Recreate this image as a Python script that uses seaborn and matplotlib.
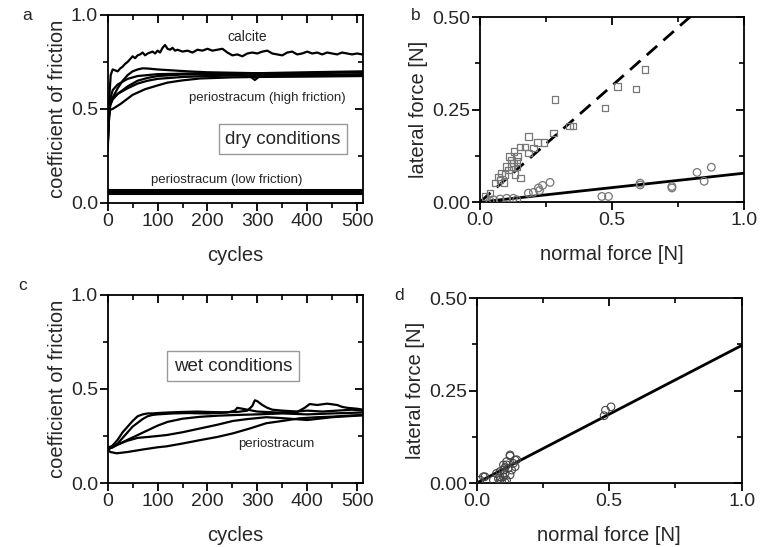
import seaborn as sns
import matplotlib
matplotlib.use('Agg')
from matplotlib import pyplot as plt
from matplotlib import lines as mlines
from matplotlib.ticker import MultipleLocator

# ---- panel a: dry conditions, coefficient of friction vs cycles ----
calcite_cyc = [0, 3, 6, 10, 15, 20, 25, 30, 35, 40, 45, 50, 55, 60, 65, 70, 75, 80, 85, 90,
               95, 100, 105, 110, 115, 120, 125, 130, 135, 140, 150, 160, 170, 180, 190, 200,
               210, 220, 230, 240, 250, 260, 270, 280, 290, 300, 310, 320, 330, 340, 350, 360,
               370, 380, 390, 400, 410, 420, 430, 440, 450, 460, 470, 480, 490, 500, 510]
calcite_cof = [0.30, 0.55, 0.68, 0.71, 0.705, 0.70, 0.715, 0.725, 0.74, 0.75, 0.765, 0.78, 0.77,
               0.785, 0.79, 0.80, 0.785, 0.795, 0.80, 0.805, 0.795, 0.81, 0.80, 0.825, 0.84, 0.82,
               0.815, 0.825, 0.81, 0.815, 0.805, 0.81, 0.80, 0.815, 0.81, 0.82, 0.81, 0.815, 0.82,
               0.80, 0.785, 0.79, 0.78, 0.795, 0.80, 0.795, 0.805, 0.81, 0.795, 0.79, 0.785, 0.80,
               0.805, 0.79, 0.795, 0.805, 0.795, 0.80, 0.79, 0.80, 0.795, 0.79, 0.80, 0.795, 0.79,
               0.795, 0.79]

high_cyc = [
    [0, 2, 5, 10, 20, 30, 40, 50, 60, 70, 80, 100, 130, 160, 200, 300, 400, 512],
    [0, 3, 5, 10, 20, 40, 60, 100, 200, 300, 400, 512],
    [0, 5, 10, 20, 40, 60, 80, 100, 150, 250, 285, 295, 305, 400, 512],
    [0, 5, 10, 20, 40, 60, 80, 100, 150, 200, 300, 400, 512],
    [0, 3, 5, 10, 25, 50, 75, 100, 120, 150, 185, 250, 300, 400, 512],
]
high_cof = [
    [0.30, 0.45, 0.52, 0.56, 0.61, 0.65, 0.68, 0.70, 0.71, 0.716, 0.715, 0.71, 0.705, 0.70, 0.695, 0.69, 0.69, 0.695],
    [0.30, 0.50, 0.55, 0.60, 0.63, 0.66, 0.675, 0.685, 0.69, 0.69, 0.695, 0.70],
    [0.35, 0.53, 0.555, 0.58, 0.62, 0.65, 0.665, 0.675, 0.683, 0.685, 0.675, 0.654, 0.675, 0.68, 0.685],
    [0.40, 0.52, 0.55, 0.58, 0.61, 0.635, 0.65, 0.66, 0.67, 0.675, 0.68, 0.68, 0.68],
    [0.28, 0.47, 0.495, 0.50, 0.525, 0.575, 0.605, 0.625, 0.64, 0.652, 0.662, 0.668, 0.67, 0.672, 0.675],
]

low_cyc = [0, 512]
low_cof = [[0.055, 0.055], [0.06, 0.06], [0.065, 0.065], [0.07, 0.07]]

# ---- panel b: dry, lateral vs normal force ----
sq_normal = [0.284, 0.278, 0.183, 0.217, 0.242, 0.183, 0.152, 0.170, 0.141, 0.126, 0.120, 0.139,
             0.107, 0.133, 0.154, 0.095, 0.076, 0.057, 0.091, 0.069, 0.038, 0.019, 0.120, 0.139,
             0.129, 0.338, 0.351, 0.473, 0.520, 0.591, 0.625, 0.202, 0.111, 0.101, 0.082]
sq_lateral = [0.277, 0.186, 0.177, 0.161, 0.161, 0.132, 0.149, 0.149, 0.123, 0.105, 0.096, 0.096,
              0.087, 0.074, 0.065, 0.074, 0.060, 0.051, 0.053, 0.067, 0.024, 0.015, 0.114, 0.110,
              0.137, 0.205, 0.206, 0.254, 0.313, 0.305, 0.359, 0.146, 0.123, 0.096, 0.078]
ci_normal = [0.461, 0.486, 0.606, 0.606, 0.726, 0.726, 0.821, 0.848, 0.875, 0.183, 0.202, 0.221,
             0.237, 0.265, 0.225, 0.051, 0.076, 0.101, 0.126, 0.139, 0.038]
ci_lateral = [0.015, 0.015, 0.051, 0.046, 0.042, 0.038, 0.080, 0.056, 0.094, 0.024, 0.026, 0.038,
              0.045, 0.053, 0.031, 0.006, 0.008, 0.010, 0.010, 0.006, 0.003]
fit_x = [0.0, 1.0]
fit_high = [0.0, 0.63]
fit_low = [0.0, 0.078]

# ---- panel c: wet conditions ----
wet_cyc = [
    [0, 10, 20, 30, 40, 50, 60, 70, 80, 90, 100, 120, 150, 180, 200, 230, 260, 280, 290, 295,
     300, 310, 320, 330, 350, 380, 400, 430, 460, 490, 512],
    [0, 10, 20, 30, 40, 50, 60, 70, 80, 90, 100, 130, 160, 200, 240, 255, 260, 270, 300, 340,
     380, 395, 405, 420, 440, 460, 470, 480, 500, 512],
    [0, 10, 25, 40, 60, 80, 100, 120, 150, 185, 220, 260, 300, 350, 400, 450, 512],
    [0, 10, 25, 40, 60, 85, 100, 118, 150, 185, 220, 251, 280, 318, 350, 400, 450, 512],
    [0, 5, 18, 40, 70, 100, 118, 150, 185, 220, 251, 285, 318, 350, 385, 420, 451, 480, 512],
]
wet_cof = [
    [0.18, 0.20, 0.23, 0.27, 0.30, 0.33, 0.355, 0.365, 0.37, 0.37, 0.372, 0.375, 0.378, 0.38,
     0.378, 0.376, 0.378, 0.385, 0.41, 0.44, 0.435, 0.415, 0.40, 0.39, 0.385, 0.38, 0.385, 0.38,
     0.385, 0.39, 0.385],
    [0.18, 0.19, 0.21, 0.24, 0.27, 0.30, 0.32, 0.34, 0.355, 0.362, 0.365, 0.37, 0.372, 0.37,
     0.375, 0.385, 0.40, 0.395, 0.38, 0.375, 0.378, 0.40, 0.42, 0.415, 0.422, 0.415, 0.405,
     0.40, 0.395, 0.39],
    [0.18, 0.19, 0.21, 0.23, 0.255, 0.28, 0.305, 0.325, 0.342, 0.352, 0.358, 0.362, 0.365, 0.37,
     0.365, 0.37, 0.375],
    [0.19, 0.195, 0.21, 0.225, 0.24, 0.246, 0.25, 0.255, 0.27, 0.29, 0.31, 0.33, 0.34, 0.35,
     0.345, 0.335, 0.35, 0.36],
    [0.18, 0.165, 0.158, 0.165, 0.178, 0.19, 0.195, 0.21, 0.228, 0.245, 0.264, 0.29, 0.318,
     0.33, 0.344, 0.35, 0.353, 0.358, 0.362],
]

# ---- panel d: wet, lateral vs normal force ----
wet_normal = [0.481, 0.486, 0.507, 0.031, 0.013, 0.063, 0.075, 0.088, 0.101, 0.113, 0.126, 0.151,
              0.138, 0.119, 0.107, 0.094, 0.113, 0.132, 0.145, 0.101, 0.082, 0.126, 0.107, 0.088,
              0.025, 0.113, 0.126, 0.145, 0.101, 0.088, 0.107]
wet_lateral = [0.182, 0.197, 0.206, 0.017, 0.008, 0.008, 0.026, 0.031, 0.049, 0.058, 0.073, 0.063,
               0.053, 0.040, 0.026, 0.004, 0.008, 0.035, 0.044, 0.017, 0.012, 0.022, 0.042, 0.017,
               0.017, 0.049, 0.076, 0.062, 0.035, 0.008, 0.002]
fit_wet = [0.0, 0.372]

sns.set_style('ticks', {'xtick.top': True, 'ytick.right': True})
plt.rcParams['font.family'] = ['Liberation Sans', 'DejaVu Sans']

fig = plt.figure(figsize=(7.6, 5.47), dpi=100)
ax_a = fig.add_axes([0.1417, 0.629, 0.336, 0.3437])
ax_b = fig.add_axes([0.6316, 0.6307, 0.3478, 0.338])
ax_c = fig.add_axes([0.1417, 0.117, 0.336, 0.3437])
ax_d = fig.add_axes([0.6272, 0.117, 0.3487, 0.338])

LW = 1.6

sns.lineplot(x=calcite_cyc, y=calcite_cof, ax=ax_a, color='black', lw=LW, estimator=None, sort=False)
for cx, cy in zip(high_cyc, high_cof):
    sns.lineplot(x=cx, y=cy, ax=ax_a, color='black', lw=LW, estimator=None, sort=False)
for cy in low_cof:
    sns.lineplot(x=low_cyc, y=cy, ax=ax_a, color='black', lw=2.2, estimator=None, sort=False)

for cx, cy in zip(wet_cyc, wet_cof):
    sns.lineplot(x=cx, y=cy, ax=ax_c, color='black', lw=LW, estimator=None, sort=False)

sns.scatterplot(x=sq_normal, y=sq_lateral, ax=ax_b, marker='s', s=22, facecolor='none',
                edgecolor='#777777', linewidth=0.9, zorder=3)
sns.scatterplot(x=ci_normal, y=ci_lateral, ax=ax_b, marker='o', s=30, facecolor='none',
                edgecolor='#777777', linewidth=0.9, zorder=3)
sns.lineplot(x=fit_x, y=fit_high, ax=ax_b, color='black', lw=2.0, linestyle=(0, (5, 3)))
sns.lineplot(x=fit_x, y=fit_low, ax=ax_b, color='black', lw=2.0)

sns.scatterplot(x=wet_normal, y=wet_lateral, ax=ax_d, marker='o', s=30, facecolor='none',
                edgecolor='#444444', linewidth=0.8, zorder=3)
sns.lineplot(x=fit_x, y=fit_wet, ax=ax_d, color='black', lw=2.0)


def style_axes(ax, xlim, ylim, xmaj, xmin, ymaj, ymin, xfmt, yfmt):
    ax.set_xlim(*xlim)
    ax.set_ylim(*ylim)
    ax.xaxis.set_major_locator(MultipleLocator(xmaj))
    ax.xaxis.set_minor_locator(MultipleLocator(xmin))
    ax.yaxis.set_major_locator(MultipleLocator(ymaj))
    ax.yaxis.set_minor_locator(MultipleLocator(ymin))
    ax.xaxis.set_major_formatter(xfmt)
    ax.yaxis.set_major_formatter(yfmt)
    for sp in ax.spines.values():
        sp.set_linewidth(1.3)
        sp.set_color('black')
    ax.tick_params(which='both', direction='out', top=True, right=True, color='black')
    ax.tick_params(which='major', length=6, width=1.3, labelsize=14, pad=1)
    ax.tick_params(which='minor', length=3.5, width=1.2)
    # mirrored ticks on top and right point inward
    for t in ax.xaxis.get_major_ticks() + ax.xaxis.get_minor_ticks():
        t.tick2line.set_marker(mlines.TICKDOWN)
    for t in ax.yaxis.get_major_ticks() + ax.yaxis.get_minor_ticks():
        t.tick2line.set_marker(mlines.TICKLEFT)


style_axes(ax_a, (0, 512), (0, 1.0), 100, 50, 0.5, 0.25, '{x:.0f}', '{x:.1f}')
style_axes(ax_c, (0, 512), (0, 1.0), 100, 50, 0.5, 0.25, '{x:.0f}', '{x:.1f}')
style_axes(ax_b, (0, 1.0), (0, 0.5), 0.5, 0.25, 0.25, 0.125, '{x:.1f}', '{x:.2f}')
style_axes(ax_d, (0, 1.0), (0, 0.5), 0.5, 0.25, 0.25, 0.125, '{x:.1f}', '{x:.2f}')

for ax in (ax_a, ax_c):
    ax.set_xlabel('cycles', fontsize=14.5, labelpad=12)
    ax.set_ylabel('coefficient of friction', fontsize=14.5, labelpad=3)
for ax in (ax_b, ax_d):
    ax.set_xlabel('normal force [N]', fontsize=14.5, labelpad=12)
    ax.set_ylabel('lateral force [N]', fontsize=14.5, labelpad=3)

box = dict(boxstyle='square,pad=0.35', facecolor='white', edgecolor='#999999', linewidth=1.0)
ax_a.text(279, 0.883, 'calcite', fontsize=10, ha='center', va='center')
ax_a.text(321, 0.558, 'periostracum (high friction)', fontsize=9.5, ha='center', va='center')
ax_a.text(351, 0.34, 'dry conditions', fontsize=13.5, ha='center', va='center', bbox=box)
ax_a.text(238, 0.122, 'periostracum (low friction)', fontsize=9.5, ha='center', va='center')
ax_c.text(251, 0.622, 'wet conditions', fontsize=13.5, ha='center', va='center', bbox=box)
ax_c.text(338, 0.207, 'periostracum', fontsize=9.5, ha='center', va='center')

for lbl, (px, py) in zip('abcd', [(27, 15), (416, 15), (23, 285), (399, 295)]):
    fig.text(px / 760, 1 - py / 547, lbl, fontsize=12.5, ha='center', va='center')

plt.savefig('out.png', dpi=100)
